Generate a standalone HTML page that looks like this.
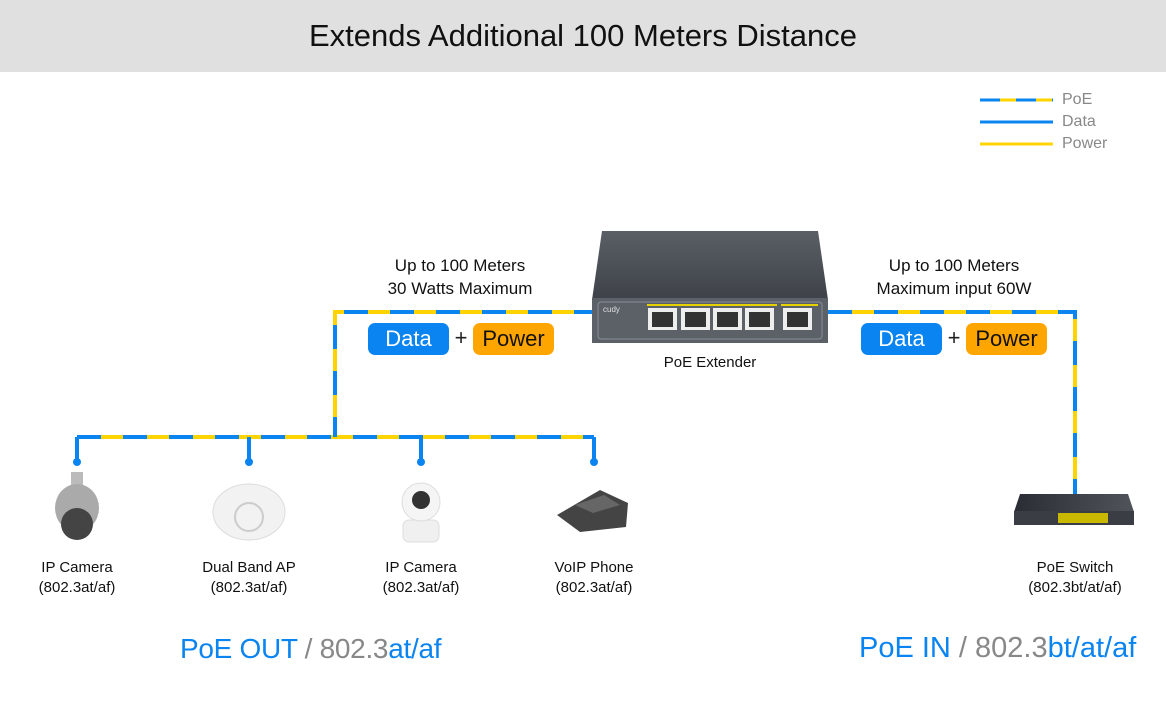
<!DOCTYPE html>
<html><head><meta charset="utf-8"><style>
body{margin:0;width:1166px;height:721px;background:#fff;font-family:"Liberation Sans",sans-serif;position:relative;overflow:hidden}
.t{position:absolute;white-space:nowrap;text-align:center}
</style></head><body>
<div style="position:absolute;left:0;top:0;width:1166px;height:72px;background:#e0e0e0"></div>
<div class="t" style="left:0;top:18px;width:1166px;font-size:31px;color:#111">Extends Additional 100 Meters Distance</div>
<svg width="1166" height="721" style="position:absolute;left:0;top:0">
<defs>
<linearGradient id="ex" x1="0" y1="0" x2="0" y2="1"><stop offset="0" stop-color="#5a5f66"/><stop offset="1" stop-color="#3e4248"/></linearGradient>
<linearGradient id="sw" x1="0" y1="0" x2="1" y2="0"><stop offset="0" stop-color="#2a2d33"/><stop offset="1" stop-color="#50545a"/></linearGradient>
</defs>
<line x1="980" y1="100" x2="1053" y2="100" stroke="#ffd400" stroke-width="3"/>
<line x1="980" y1="100" x2="1053" y2="100" stroke="#0a84f0" stroke-width="3" stroke-dasharray="20 16"/>
<line x1="980" y1="122" x2="1053" y2="122" stroke="#0a84f0" stroke-width="3"/>
<line x1="980" y1="144" x2="1053" y2="144" stroke="#ffd400" stroke-width="3"/>
<g fill="none" stroke-width="4">
<path d="M598 312 H335 V437 M77 437 H594 M77 437 V462 M249 437 V462 M421 437 V462 M594 437 V462 M828 312 H1075 V495" stroke="#ffd400"/>
<path d="M598 312 H335 V437 M77 437 H594 M77 437 V462 M249 437 V462 M421 437 V462 M594 437 V462 M828 312 H1075 V495" stroke="#0a84f0" stroke-dasharray="24 22"/>
</g>
<g fill="#0a84f0"><circle cx="77" cy="462" r="4"/><circle cx="249" cy="462" r="4"/><circle cx="421" cy="462" r="4"/><circle cx="594" cy="462" r="4"/></g>
<polygon points="602,231 818,231 828,300 592,300" fill="url(#ex)"/>
<rect x="592" y="298" width="236" height="45" fill="#5c6168"/>
<rect x="598" y="302" width="224" height="37" rx="3" fill="none" stroke="#8a9098" stroke-width="1"/>
<text x="603" y="312" font-size="8" fill="#ddd">cudy</text>
<rect x="647" y="304" width="130" height="2" fill="#e6d200"/>
<rect x="781" y="304" width="37" height="2" fill="#e6d200"/>
<g fill="#eee"><rect x="648" y="308" width="29" height="22"/><rect x="681" y="308" width="29" height="22"/><rect x="713" y="308" width="29" height="22"/><rect x="745" y="308" width="29" height="22"/><rect x="783" y="308" width="29" height="22"/></g>
<g fill="#333"><rect x="652" y="312" width="21" height="15"/><rect x="685" y="312" width="21" height="15"/><rect x="717" y="312" width="21" height="15"/><rect x="749" y="312" width="21" height="15"/><rect x="787" y="312" width="21" height="15"/></g>
<rect x="71" y="472" width="12" height="14" fill="#bbb"/>
<ellipse cx="77" cy="508" rx="22" ry="24" fill="#aaa"/><circle cx="77" cy="524" r="16" fill="#444"/>
<ellipse cx="249" cy="512" rx="36" ry="28" fill="#f2f2f2" stroke="#ddd"/><circle cx="249" cy="517" r="14" fill="none" stroke="#ccc" stroke-width="2"/>
<rect x="403" y="520" width="36" height="22" rx="6" fill="#f0f0f0" stroke="#ddd"/><circle cx="421" cy="502" r="19" fill="#f5f5f5" stroke="#ddd"/><circle cx="421" cy="500" r="9" fill="#333"/>
<polygon points="557,515 600,490 628,503 626,527 580,532" fill="#444"/><polygon points="575,505 604,495 620,505 593,513" fill="#666"/>
<polygon points="1020,494 1128,494 1134,512 1014,512" fill="url(#sw)"/><rect x="1014" y="511" width="120" height="14" fill="#3a3d43"/>
<rect x="1058" y="513" width="50" height="10" fill="#c9b800"/>
<rect x="368" y="323" width="81" height="32" rx="7" fill="#0a84f0"/>
<rect x="473" y="323" width="81" height="32" rx="7" fill="#ffa500"/>
<rect x="861" y="323" width="81" height="32" rx="7" fill="#0a84f0"/>
<rect x="966" y="323" width="81" height="32" rx="7" fill="#ffa500"/>
</svg>
<div class="t" style="left:1062px;top:91px;font-size:16px;color:#888">PoE</div>
<div class="t" style="left:1062px;top:113px;font-size:16px;color:#888">Data</div>
<div class="t" style="left:1062px;top:135px;font-size:16px;color:#888">Power</div>
<div class="t" style="left:360px;top:254px;width:200px;font-size:17px;line-height:23px;color:#111">Up to 100 Meters<br>30 Watts Maximum</div>
<div class="t" style="left:854px;top:254px;width:200px;font-size:17px;line-height:23px;color:#111">Up to 100 Meters<br>Maximum input 60W</div>
<div class="t" style="left:368px;top:326px;width:81px;font-size:22px;color:#fff">Data</div>
<div class="t" style="left:449px;top:325px;width:24px;font-size:22px;color:#222">+</div>
<div class="t" style="left:473px;top:326px;width:81px;font-size:22px;color:#111">Power</div>
<div class="t" style="left:861px;top:326px;width:81px;font-size:22px;color:#fff">Data</div>
<div class="t" style="left:942px;top:325px;width:24px;font-size:22px;color:#222">+</div>
<div class="t" style="left:966px;top:326px;width:81px;font-size:22px;color:#111">Power</div>
<div class="t" style="left:610px;top:354px;width:200px;font-size:15px;color:#111">PoE Extender</div>
<div class="t" style="left:0;top:558px;width:154px;font-size:15px;line-height:20px;color:#111">IP Camera<br>(802.3at/af)</div>
<div class="t" style="left:172px;top:558px;width:154px;font-size:15px;line-height:20px;color:#111">Dual Band AP<br>(802.3at/af)</div>
<div class="t" style="left:344px;top:558px;width:154px;font-size:15px;line-height:20px;color:#111">IP Camera<br>(802.3at/af)</div>
<div class="t" style="left:517px;top:558px;width:154px;font-size:15px;line-height:20px;color:#111">VoIP Phone<br>(802.3at/af)</div>
<div class="t" style="left:998px;top:558px;width:154px;font-size:15px;line-height:20px;color:#111">PoE Switch<br>(802.3bt/at/af)</div>
<div class="t" style="left:180px;top:633px;font-size:28px;letter-spacing:-0.3px;color:#888"><span style="color:#0a84f0">PoE OUT</span> / 802.3<span style="color:#0a84f0">at/af</span></div>
<div class="t" style="left:859px;top:632px;font-size:29px;color:#888"><span style="color:#0a84f0">PoE IN</span> / 802.3<span style="color:#0a84f0">bt/at/af</span></div>
</body></html>
